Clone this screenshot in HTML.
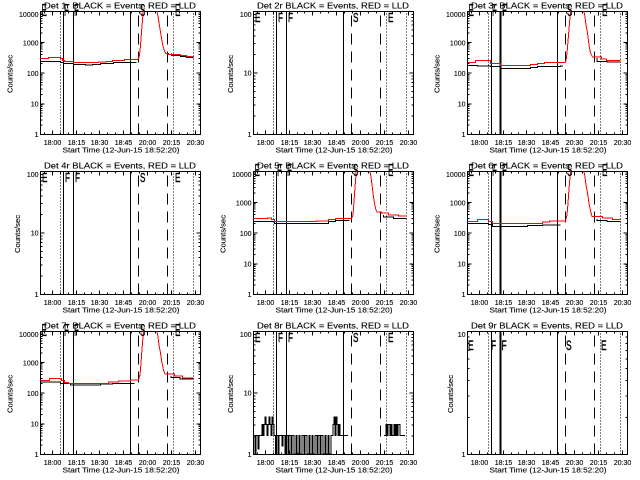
<!DOCTYPE html>
<html><head><meta charset="utf-8">
<style>
html,body{margin:0;padding:0;background:#fff;}
svg{display:block;}
text{font-family:"Liberation Sans",sans-serif;fill:#000;stroke:#000;stroke-width:0.12;}
.tl{font-size:8.5px;text-anchor:middle;}
.tk{font-size:7px;text-anchor:middle;}
.yk{font-size:7px;text-anchor:end;}
.xt{font-size:7.5px;text-anchor:middle;}
.yt{font-size:7.5px;text-anchor:middle;}
.l4{font-size:18px;stroke-width:0.3;}
.l2{font-size:12.5px;stroke-width:0.4;}
.l1{font-size:14px;stroke-width:0.4;}
</style></head><body>
<svg width="640" height="480" viewBox="0 0 640 480" xmlns="http://www.w3.org/2000/svg" shape-rendering="crispEdges">
<rect x="0" y="0" width="640" height="480" fill="#fff"/>
<defs>
<clipPath id="cp"><rect x="0" y="0" width="161" height="124"/></clipPath>
<path id="xb" fill="none" stroke="#000" d="M12.5 123.5v-4M36.5 123.5v-4M59.5 123.5v-4M83.5 123.5v-4M107.5 123.5v-4M131.5 123.5v-4M155.5 123.5v-4M4.5 123.5v-2M20.5 123.5v-2M28.5 123.5v-2M44.5 123.5v-2M51.5 123.5v-2M67.5 123.5v-2M75.5 123.5v-2M91.5 123.5v-2M99.5 123.5v-2M115.5 123.5v-2M123.5 123.5v-2M139.5 123.5v-2M147.5 123.5v-2"/>
<path id="yl4" fill="none" stroke="#000" d="M.5 31.25h4M.5 62h4M.5 92.75h4M.5 114.2h2M.5 108.8h2M.5 105h2M.5 102h2M.5 99.6h2M.5 97.5h2M.5 95.7h2M.5 94.2h2M.5 83.5h2M.5 78.1h2M.5 74.2h2M.5 71.3h2M.5 68.8h2M.5 66.8h2M.5 65h2M.5 63.4h2M.5 52.7h2M.5 47.3h2M.5 43.5h2M.5 40.5h2M.5 38.1h2M.5 36h2M.5 34.2h2M.5 32.7h2M.5 22h2M.5 16.6h2M.5 12.7h2M.5 9.8h2M.5 7.3h2M.5 5.3h2M.5 3.5h2M.5 1.9h2"/>
<path id="yl2" fill="none" stroke="#000" d="M.5 62h4M.5 105h2M.5 94.2h2M.5 86.5h2M.5 80.5h2M.5 75.6h2M.5 71.5h2M.5 68h2M.5 64.8h2M.5 43.5h2M.5 32.7h2M.5 25h2M.5 19h2M.5 14.1h2M.5 10h2M.5 6.5h2M.5 3.3h2"/>
<path id="yl1" fill="none" stroke="#000" d="M.5 86.5h2M.5 64.8h2M.5 49.5h2M.5 37.5h2M.5 27.8h2M.5 19.6h2M.5 12.4h2M.5 6.1h2"/>
<g id="ev" fill="none" stroke="#000">
<path d="M23.5 .5V123.5M33.5 .5V123.5M90.5 .5V123.5"/>
<path stroke-dasharray="1 2" d="M20.5 123.5V.5M133.5 123.5V.5M153.5 123.5V.5"/>
<path stroke-dasharray="11 7" d="M98.5 123.5V.5M127.5 123.5V.5"/>
</g>
<g id="ev2" fill="none" stroke="#000">
<path d="M24.5 .5V123.5M90.5 .5V123.5"/>
<path stroke-width="2" d="M33.5 .5V123.5"/>
<path stroke-dasharray="1 2" d="M21.5 123.5V.5M133.5 123.5V.5M153.5 123.5V.5"/>
<path stroke-dasharray="11 7" d="M98.5 123.5V.5M127.5 123.5V.5"/>
</g>
</defs>

<!-- Panel 1 -->
<g transform="translate(0,0)">
<text class="tl" x="120" y="8.5" textLength="152" lengthAdjust="spacingAndGlyphs">Det 1r BLACK = Events, RED = LLD</text>
<g transform="translate(40,11)">
<rect x=".5" y=".5" width="160" height="123" fill="none" stroke="#000"/>
<use href="#xb"/><use href="#xb" transform="translate(0,124) scale(1,-1)"/>
<use href="#yl4"/><use href="#yl4" transform="translate(161,0) scale(-1,1)"/>
<use href="#ev"/>
<g clip-path="url(#cp)" fill="none">
<path stroke="#000" d="M0.5 50.5H20.5V51.5H23.5V52.5H33.5V53.5H45.5V54H52.5V53.5H60.5V52.5H73.5V51.5H96.5M131.5 42.5V44.5H140.5V45.5H146.5V46.5H153.5"/>
<path stroke="#f00" d="M0.5 47.5H8.5V46.5H20.5V47.5H22.5V49.5H24.5V50.5H33.5V51.5H58.5V51H66.5V50.5H72.5V49.5H84.5V48.5H97.5L99 47L100 40L101 28L102 15L103 3L103.5 -2M116.5 -2L118 5L119 12L120 18L121 24L122 30L123 35L124 38.5L125 41L126 42.5H128.5V43.5H140.5V44.5H146.5V45.5H153.5"/>
</g>
</g>
<text class="l4" transform="translate(41.5,16) scale(0.45,1)">E</text>
<text class="l4" transform="translate(64,16) scale(0.45,1)">F</text>
<text class="l4" transform="translate(74,16) scale(0.45,1)">F</text>
<text class="l4" transform="translate(140,16) scale(0.45,1)">S</text>
<text class="l4" transform="translate(175,16) scale(0.45,1)">E</text>
<text class="yk" x="38.5" y="17">10000</text><text class="yk" x="38.5" y="45.5">1000</text><text class="yk" x="38.5" y="76">100</text><text class="yk" x="38.5" y="106.5">10</text><text class="yk" x="38.5" y="137">1</text>
<text class="tk" y="145" x="52.5">18:00</text><text class="tk" y="145" x="76.5">18:15</text><text class="tk" y="145" x="99.5">18:30</text><text class="tk" y="145" x="123.5">18:45</text><text class="tk" y="145" x="147.5">20:00</text><text class="tk" y="145" x="171.5">20:15</text><text class="tk" y="145" x="195.5">20:30</text>
<text class="xt" x="121" y="152.5" textLength="117" lengthAdjust="spacingAndGlyphs">Start Time (12-Jun-15 18:52:20)</text>
<text class="yt" transform="translate(12.3,74) rotate(-90)" textLength="38" lengthAdjust="spacingAndGlyphs">Counts/sec</text>
</g>

<!-- Panel 2 -->
<g transform="translate(213,0)">
<text class="tl" x="120" y="8.5" textLength="152" lengthAdjust="spacingAndGlyphs">Det 2r BLACK = Events, RED = LLD</text>
<g transform="translate(40,11)">
<rect x=".5" y=".5" width="160" height="123" fill="none" stroke="#000"/>
<use href="#xb"/><use href="#xb" transform="translate(0,124) scale(1,-1)"/>
<use href="#yl2"/><use href="#yl2" transform="translate(161,0) scale(-1,1)"/>
<use href="#ev"/>
</g>
<text class="l2" transform="translate(42,22) scale(0.65,1)">E</text>
<text class="l2" transform="translate(65,22) scale(0.65,1)">F</text>
<text class="l2" transform="translate(75,22) scale(0.65,1)">F</text>
<text class="l2" transform="translate(140,22) scale(0.65,1)">S</text>
<text class="l2" transform="translate(175,22) scale(0.65,1)">E</text>
<text class="yk" x="38.5" y="17">100</text><text class="yk" x="38.5" y="75.5">10</text><text class="yk" x="38.5" y="137">1</text>
<text class="tk" y="145" x="52.5">18:00</text><text class="tk" y="145" x="76.5">18:15</text><text class="tk" y="145" x="99.5">18:30</text><text class="tk" y="145" x="123.5">18:45</text><text class="tk" y="145" x="147.5">20:00</text><text class="tk" y="145" x="171.5">20:15</text><text class="tk" y="145" x="195.5">20:30</text>
<text class="xt" x="121" y="152.5" textLength="117" lengthAdjust="spacingAndGlyphs">Start Time (12-Jun-15 18:52:20)</text>
<text class="yt" transform="translate(19.8,74) rotate(-90)" textLength="38" lengthAdjust="spacingAndGlyphs">Counts/sec</text>
</g>

<!-- Panel 3 -->
<g transform="translate(427,0)">
<text class="tl" x="120" y="8.5" textLength="152" lengthAdjust="spacingAndGlyphs">Det 3r BLACK = Events, RED = LLD</text>
<g transform="translate(40,11)">
<rect x=".5" y=".5" width="160" height="123" fill="none" stroke="#000"/>
<use href="#xb"/><use href="#xb" transform="translate(0,124) scale(1,-1)"/>
<use href="#yl4"/><use href="#yl4" transform="translate(161,0) scale(-1,1)"/>
<use href="#ev2"/>
<g clip-path="url(#cp)" fill="none">
<path stroke="#000" d="M0.5 54.5H10.5V55H23.5V55.5H33.5V57.5H63.5V56.5H70.5V55.5H93.5V55H96M130 47V50.5H140V51H153.5"/>
<path stroke="#f00" d="M0.5 51.5H8.5V49.5H23.5V52.5H33.5V54.5H63.5V53.5H70.5V52.5H77.5V51.5H98L99 50L100 42L101 30L102 18L103 6L104 -2M116.5 -2L118 6L119 14L120.5 22L122 34L123.5 42L125.5 46H134.5V48H139.5V49.5H153.5"/>
</g>
</g>
<text class="l4" transform="translate(41.5,16) scale(0.45,1)">E</text>
<text class="l4" transform="translate(65,16) scale(0.45,1)">F</text>
<text class="l4" transform="translate(75,16) scale(0.45,1)">F</text>
<text class="l4" transform="translate(140,16) scale(0.45,1)">S</text>
<text class="l4" transform="translate(175,16) scale(0.45,1)">E</text>
<text class="yk" x="38.5" y="17">10000</text><text class="yk" x="38.5" y="45.5">1000</text><text class="yk" x="38.5" y="76">100</text><text class="yk" x="38.5" y="106.5">10</text><text class="yk" x="38.5" y="137">1</text>
<text class="tk" y="145" x="52.5">18:00</text><text class="tk" y="145" x="76.5">18:15</text><text class="tk" y="145" x="99.5">18:30</text><text class="tk" y="145" x="123.5">18:45</text><text class="tk" y="145" x="147.5">20:30</text><text class="tk" y="145" x="171.5">20:15</text><text class="tk" y="145" x="195.5">20:30</text>
<text class="xt" x="121" y="152.5" textLength="117" lengthAdjust="spacingAndGlyphs">Start Time (12-Jun-15 18:52:20)</text>
<text class="yt" transform="translate(12.3,74) rotate(-90)" textLength="38" lengthAdjust="spacingAndGlyphs">Counts/sec</text>
</g>

<!-- Panel 4 -->
<g transform="translate(0,160)">
<text class="tl" x="120" y="8.5" textLength="152" lengthAdjust="spacingAndGlyphs">Det 4r BLACK = Events, RED = LLD</text>
<g transform="translate(40,11)">
<rect x=".5" y=".5" width="160" height="123" fill="none" stroke="#000"/>
<use href="#xb"/><use href="#xb" transform="translate(0,124) scale(1,-1)"/>
<use href="#yl2"/><use href="#yl2" transform="translate(161,0) scale(-1,1)"/>
<use href="#ev"/>
</g>
<text class="l2" transform="translate(42,22) scale(0.65,1)">E</text>
<text class="l2" transform="translate(65,22) scale(0.65,1)">F</text>
<text class="l2" transform="translate(75,22) scale(0.65,1)">F</text>
<text class="l2" transform="translate(140,22) scale(0.65,1)">S</text>
<text class="l2" transform="translate(175,22) scale(0.65,1)">E</text>
<text class="yk" x="38.5" y="17">100</text><text class="yk" x="38.5" y="75.5">10</text><text class="yk" x="38.5" y="137">1</text>
<text class="tk" y="145" x="52.5">18:00</text><text class="tk" y="145" x="76.5">18:15</text><text class="tk" y="145" x="99.5">18:30</text><text class="tk" y="145" x="123.5">18:45</text><text class="tk" y="145" x="147.5">20:00</text><text class="tk" y="145" x="171.5">20:15</text><text class="tk" y="145" x="195.5">20:30</text>
<text class="xt" x="121" y="152.5" textLength="117" lengthAdjust="spacingAndGlyphs">Start Time (12-Jun-15 18:52:20)</text>
<text class="yt" transform="translate(19.8,74) rotate(-90)" textLength="38" lengthAdjust="spacingAndGlyphs">Counts/sec</text>
</g>

<!-- Panel 5 -->
<g transform="translate(213,160)">
<text class="tl" x="120" y="8.5" textLength="152" lengthAdjust="spacingAndGlyphs">Det 5r BLACK = Events, RED = LLD</text>
<g transform="translate(40,11)">
<rect x=".5" y=".5" width="160" height="123" fill="none" stroke="#000"/>
<use href="#xb"/><use href="#xb" transform="translate(0,124) scale(1,-1)"/>
<use href="#yl4"/><use href="#yl4" transform="translate(161,0) scale(-1,1)"/>
<use href="#ev"/>
<g clip-path="url(#cp)" fill="none">
<path stroke="#000" d="M0.5 50.5H21.5V52.5H75.5V50.5H82.5V49.5H96.5M130.5 44V46H140.5V47.5H153.5"/>
<path stroke="#f00" d="M0.5 47.5H14.5V47H18.5V48.5H21.5V50.5H63.5V50H75.5V48.5H82.5V47.5H98.5L100 44L101 30L102 16L103 4L103.5 -2M116.5 -2L118 6L119 14L120 22L121 29L122 35L123 39L124 41H128.5V42H135.5V44H145.5V45H153.5"/>
</g>
</g>
<text class="l4" transform="translate(41.5,16) scale(0.45,1)">E</text>
<text class="l4" transform="translate(64,16) scale(0.45,1)">F</text>
<text class="l4" transform="translate(74,16) scale(0.45,1)">F</text>
<text class="l4" transform="translate(140,16) scale(0.45,1)">S</text>
<text class="l4" transform="translate(175,16) scale(0.45,1)">E</text>
<text class="yk" x="38.5" y="17">10000</text><text class="yk" x="38.5" y="45.5">1000</text><text class="yk" x="38.5" y="76">100</text><text class="yk" x="38.5" y="106.5">10</text><text class="yk" x="38.5" y="137">1</text>
<text class="tk" y="145" x="52.5">18:00</text><text class="tk" y="145" x="76.5">18:15</text><text class="tk" y="145" x="99.5">18:30</text><text class="tk" y="145" x="123.5">18:45</text><text class="tk" y="145" x="147.5">20:00</text><text class="tk" y="145" x="171.5">20:15</text><text class="tk" y="145" x="195.5">20:30</text>
<text class="xt" x="121" y="152.5" textLength="117" lengthAdjust="spacingAndGlyphs">Start Time (12-Jun-15 18:52:20)</text>
<text class="yt" transform="translate(12.3,74) rotate(-90)" textLength="38" lengthAdjust="spacingAndGlyphs">Counts/sec</text>
</g>

<!-- Panel 6 -->
<g transform="translate(427,160)">
<text class="tl" x="120" y="8.5" textLength="152" lengthAdjust="spacingAndGlyphs">Det 6r BLACK = Events, RED = LLD</text>
<g transform="translate(40,11)">
<rect x=".5" y=".5" width="160" height="123" fill="none" stroke="#000"/>
<use href="#xb"/><use href="#xb" transform="translate(0,124) scale(1,-1)"/>
<use href="#yl4"/><use href="#yl4" transform="translate(161,0) scale(-1,1)"/>
<use href="#ev2"/>
<g clip-path="url(#cp)" fill="none">
<path stroke="#000" d="M0.5 52.5H21.5V53.5H25.5V55.5H60.5V54.5H75.5V54H93.5M130 48V49.5H140V50.5H153.5"/>
<path stroke="#f00" d="M0.5 50.5H10.5V48.5H21.5V50.5H25.5V52.5H75.5V51H82.5V50H98.5L100 44L101 32L102 18L103 6L104 -2M116.5 -2L118 6L119 14L120.5 22L122 32L123.5 40L125 45.5H135.5V47H145.5V48.5H153.5"/>
</g>
</g>
<text class="l4" transform="translate(41.5,16) scale(0.45,1)">E</text>
<text class="l4" transform="translate(65,16) scale(0.45,1)">F</text>
<text class="l4" transform="translate(75,16) scale(0.45,1)">F</text>
<text class="l4" transform="translate(140,16) scale(0.45,1)">S</text>
<text class="l4" transform="translate(175,16) scale(0.45,1)">E</text>
<text class="yk" x="38.5" y="17">10000</text><text class="yk" x="38.5" y="45.5">1000</text><text class="yk" x="38.5" y="76">100</text><text class="yk" x="38.5" y="106.5">10</text><text class="yk" x="38.5" y="137">1</text>
<text class="tk" y="145" x="52.5">18:00</text><text class="tk" y="145" x="76.5">18:15</text><text class="tk" y="145" x="99.5">18:30</text><text class="tk" y="145" x="123.5">18:45</text><text class="tk" y="145" x="147.5">20:30</text><text class="tk" y="145" x="171.5">20:15</text><text class="tk" y="145" x="195.5">20:30</text>
<text class="xt" x="121" y="152.5" textLength="117" lengthAdjust="spacingAndGlyphs">Start Time (12-Jun-15 18:52:20)</text>
<text class="yt" transform="translate(12.3,74) rotate(-90)" textLength="38" lengthAdjust="spacingAndGlyphs">Counts/sec</text>
</g>

<!-- Panel 7 -->
<g transform="translate(0,320)">
<text class="tl" x="120" y="8.5" textLength="152" lengthAdjust="spacingAndGlyphs">Det 7r BLACK = Events, RED = LLD</text>
<g transform="translate(40,11)">
<rect x=".5" y=".5" width="160" height="123" fill="none" stroke="#000"/>
<use href="#xb"/><use href="#xb" transform="translate(0,124) scale(1,-1)"/>
<use href="#yl4"/><use href="#yl4" transform="translate(161,0) scale(-1,1)"/>
<use href="#ev"/>
<g clip-path="url(#cp)" fill="none">
<path stroke="#000" d="M0.5 51H20.5V52.5H30.5V54H60.5V53H72.5V52.5H94.5M131 45V46.5H140V48H153.5"/>
<path stroke="#f00" d="M0.5 49.5H9.5V47.5H21.5V49.5H24.5V51.5H28.5V52.5H68.5V51H78.5V50H90.5V49H98.5L100 44L101 32L102 18L103 6L104 -2M116.5 -2L118 6L119 14L120.5 22L122 32L123.5 39L125 43H134.5V45H142.5V47H153.5"/>
</g>
</g>
<text class="l4" transform="translate(41.5,16) scale(0.45,1)">E</text>
<text class="l4" transform="translate(64,16) scale(0.45,1)">F</text>
<text class="l4" transform="translate(74,16) scale(0.45,1)">F</text>
<text class="l4" transform="translate(140,16) scale(0.45,1)">S</text>
<text class="l4" transform="translate(175,16) scale(0.45,1)">E</text>
<text class="yk" x="38.5" y="17">10000</text><text class="yk" x="38.5" y="45.5">1000</text><text class="yk" x="38.5" y="76">100</text><text class="yk" x="38.5" y="106.5">10</text><text class="yk" x="38.5" y="137">1</text>
<text class="tk" y="145" x="52.5">18:00</text><text class="tk" y="145" x="76.5">18:15</text><text class="tk" y="145" x="99.5">18:30</text><text class="tk" y="145" x="123.5">18:45</text><text class="tk" y="145" x="147.5">20:00</text><text class="tk" y="145" x="171.5">20:15</text><text class="tk" y="145" x="195.5">20:30</text>
<text class="xt" x="121" y="152.5" textLength="117" lengthAdjust="spacingAndGlyphs">Start Time (12-Jun-15 18:52:20)</text>
<text class="yt" transform="translate(12.3,74) rotate(-90)" textLength="38" lengthAdjust="spacingAndGlyphs">Counts/sec</text>
</g>

<!-- Panel 8 -->
<g transform="translate(213,320)">
<text class="tl" x="120" y="8.5" textLength="152" lengthAdjust="spacingAndGlyphs">Det 8r BLACK = Events, RED = LLD</text>
<g transform="translate(40,11)">
<rect x=".5" y=".5" width="160" height="123" fill="none" stroke="#000"/>
<use href="#xb"/><use href="#xb" transform="translate(0,124) scale(1,-1)"/>
<use href="#yl2"/><use href="#yl2" transform="translate(161,0) scale(-1,1)"/>
<use href="#ev"/>
<g clip-path="url(#cp)" fill="none">
<path stroke="#000" d="M0.5 104.5H2V123H3V104.5H5V118H6V104.5H9V93.5H10V104.5H11V93.5H12V86H13V93.5H14V104.5H15V93.5H16V86H17V93.5H18V104.5H19V86H20V93.5H21V104.5H22.5V123H23.5V104.5H25V123H26V104.5H29V115H30V104.5H32V123H33V104.5H35V123H36V104.5H38V123H39V104.5H41V123H43V104.5H44V123H46V104.5H47V123H49V104.5H51V123H52V104.5H54V123H56V104.5H57V123H59V104.5H60V123H62V104.5H64V123H65V104.5H67V123H68V104.5H70V123H72V104.5H73V123H75V104.5H76V123H78V104.5H80V93.5H81V86H82V104.5H83V86H84V93.5H85V104.5H86V93.5H87V104.5H95M131 104.5H133V93.5H134V104.5H135V93.5H137V104.5H138V93.5H139V104.5H141V93.5H142V104.5H143V93.5H144V104.5H145V93.5H147V104.5H152"/>
</g>
</g>
<text class="l2" transform="translate(42,22) scale(0.65,1)">E</text>
<text class="l2" transform="translate(65,22) scale(0.65,1)">F</text>
<text class="l2" transform="translate(75,22) scale(0.65,1)">F</text>
<text class="l2" transform="translate(140,22) scale(0.65,1)">S</text>
<text class="l2" transform="translate(175,22) scale(0.65,1)">E</text>
<text class="yk" x="38.5" y="17">100</text><text class="yk" x="38.5" y="75.5">10</text><text class="yk" x="38.5" y="137">1</text>
<text class="tk" y="145" x="52.5">18:00</text><text class="tk" y="145" x="76.5">18:15</text><text class="tk" y="145" x="99.5">18:30</text><text class="tk" y="145" x="123.5">18:45</text><text class="tk" y="145" x="147.5">20:00</text><text class="tk" y="145" x="171.5">20:15</text><text class="tk" y="145" x="195.5">20:30</text>
<text class="xt" x="121" y="152.5" textLength="117" lengthAdjust="spacingAndGlyphs">Start Time (12-Jun-15 18:52:20)</text>
<text class="yt" transform="translate(19.8,74) rotate(-90)" textLength="38" lengthAdjust="spacingAndGlyphs">Counts/sec</text>
</g>

<!-- Panel 9 -->
<g transform="translate(427,320)">
<text class="tl" x="120" y="8.5" textLength="152" lengthAdjust="spacingAndGlyphs">Det 9r BLACK = Events, RED = LLD</text>
<g transform="translate(40,11)">
<rect x=".5" y=".5" width="160" height="123" fill="none" stroke="#000"/>
<use href="#xb"/><use href="#xb" transform="translate(0,124) scale(1,-1)"/>
<use href="#yl1"/><use href="#yl1" transform="translate(161,0) scale(-1,1)"/>
<use href="#ev2"/>
</g>
<text class="l1" transform="translate(41,30) scale(0.6,1)">E</text>
<text class="l1" transform="translate(64,30) scale(0.6,1)">F</text>
<text class="l1" transform="translate(74.5,30) scale(0.6,1)">F</text>
<text class="l1" transform="translate(139,30) scale(0.6,1)">S</text>
<text class="l1" transform="translate(174,30) scale(0.6,1)">E</text>
<text class="yk" x="38.5" y="17">10</text><text class="yk" x="38.5" y="137">1</text>
<text class="tk" y="145" x="52.5">18:00</text><text class="tk" y="145" x="76.5">18:15</text><text class="tk" y="145" x="99.5">18:30</text><text class="tk" y="145" x="123.5">18:45</text><text class="tk" y="145" x="147.5">20:30</text><text class="tk" y="145" x="171.5">20:15</text><text class="tk" y="145" x="195.5">20:30</text>
<text class="xt" x="121" y="152.5" textLength="117" lengthAdjust="spacingAndGlyphs">Start Time (12-Jun-15 18:52:20)</text>
<text class="yt" transform="translate(25.8,74) rotate(-90)" textLength="38" lengthAdjust="spacingAndGlyphs">Counts/sec</text>
</g>
</svg>
</body></html>
